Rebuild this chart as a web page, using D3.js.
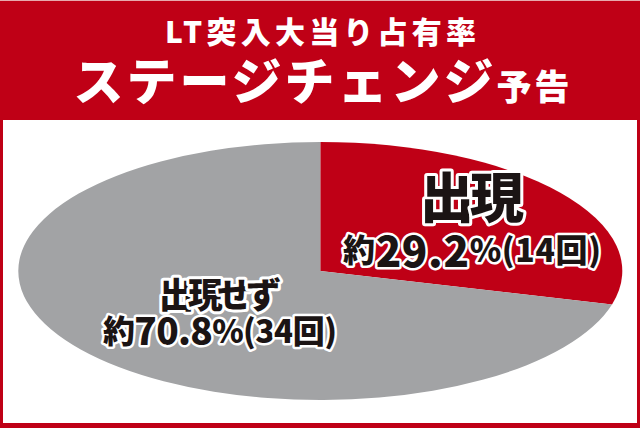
<!DOCTYPE html>
<html>
<head>
<meta charset="utf-8">
<script src="https://cdn.jsdelivr.net/npm/d3@7"></script>
<style>
  html, body { margin: 0; padding: 0; background: #fff; }
  svg { display: block; font-family: "Noto Sans CJK JP", "Noto Sans", sans-serif; }
</style>
</head>
<body>
<svg id="chart"></svg>
<script>
// data
const categories = ['出現', '出現せず'];
const counts = [14, 34];
const percents = ['29.2', '70.8'];
const colors = ['#bf0016', '#a2a3a5'];

const titleLine1 = 'LT突入大当り占有率';
const titleLine2 = 'ステージチェンジ';
const titleSuffix = '予告';

const svgWidth = 640;
const svgHeight = 428;
const red = '#bf0016';
const ink = '#1b1414';

const svg = d3.select('#chart')
    .attr('width', svgWidth)
    .attr('height', svgHeight);

// frame + header
svg.append('rect')
    .attr('width', svgWidth)
    .attr('height', svgHeight)
    .attr('fill', red);

svg.append('rect')
    .attr('x', 3)
    .attr('y', 120)
    .attr('width', 634)
    .attr('height', 303)
    .attr('fill', '#fff');

svg.append('rect')
    .attr('width', svgWidth)
    .attr('height', 1)
    .attr('fill', '#e7a9ad');

svg.append('text')
    .attr('x', 320.5)
    .attr('y', 43)
    .attr('text-anchor', 'middle')
    .attr('fill', '#fff')
    .attr('font-size', 30)
    .attr('font-weight', 900)
    .attr('textLength', 311)
    .attr('lengthAdjust', 'spacing')
    .text(titleLine1);

const t2 = svg.append('text')
    .attr('x', 321.5)
    .attr('y', 100)
    .attr('text-anchor', 'middle')
    .attr('fill', '#fff')
    .attr('font-weight', 900)
    .attr('textLength', 496)
    .attr('lengthAdjust', 'spacing');
t2.append('tspan').attr('font-size', 50).text(titleLine2);
t2.append('tspan').attr('font-size', 35).text(titleSuffix);

// pie drawn as an ellipse
const cx = 320.3, cy = 271, rx = 302, ry = 129;

const pie = d3.pie().sort(null).value((d) => d);
const arcs = pie(counts);

const arc = d3.arc()
    .innerRadius(0)
    .outerRadius(ry);

const pieG = svg.append('g')
    .attr('transform', `translate(${cx}, ${cy}) scale(${rx / ry}, 1)`);

pieG.selectAll('path')
    .data(arcs)
    .enter()
    .append('path')
    .attr('d', arc)
    .attr('fill', (d, i) => colors[i]);

// labels
const labelPos = [
    { x: 472, y1: 194, y2: 248, big: 54, pre: 32, num: 42, post: 32, len: 258, titleLen: 104 },
    { x: 220, y1: 292, y2: 329, big: 35, pre: 32, num: 37, post: 32, len: 234, titleLen: 122 }
];

const labels = svg.append('g')
    .attr('fill', ink)
    .attr('stroke', '#fff')
    .attr('stroke-linejoin', 'round')
    .attr('paint-order', 'stroke')
    .attr('font-weight', 900)
    .attr('text-anchor', 'middle')
    .attr('dominant-baseline', 'central');

categories.forEach((c, i) => {
    const p = labelPos[i];
    labels.append('text')
        .attr('x', p.x)
        .attr('y', p.y1)
        .attr('font-size', p.big)
        .attr('stroke-width', 6)
        .attr('textLength', p.titleLen)
        .attr('lengthAdjust', 'spacing')
        .text(c);

    const t = labels.append('text')
        .attr('x', p.x)
        .attr('y', p.y2)
        .attr('stroke-width', 5)
        .attr('textLength', p.len)
        .attr('lengthAdjust', 'spacing');
    t.append('tspan').attr('font-size', p.pre).text('約');
    t.append('tspan').attr('font-size', p.num).text(percents[i]);
    t.append('tspan').attr('font-size', p.post).text(`%(${counts[i]}回)`);
});
</script>
</body>
</html>
